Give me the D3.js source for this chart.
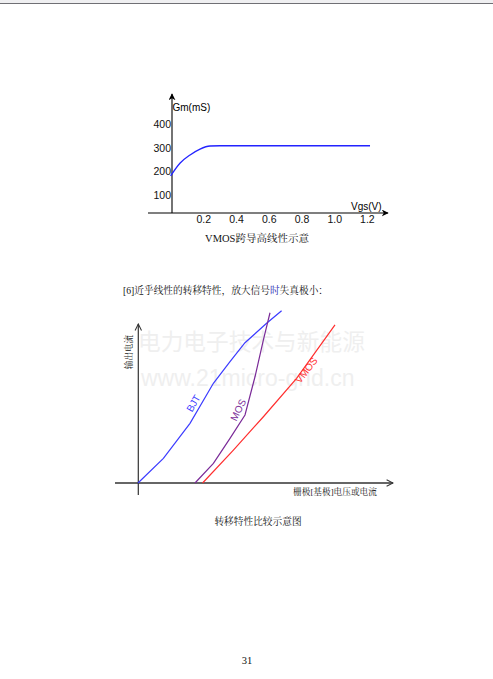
<!DOCTYPE html>
<html><head><meta charset="utf-8">
<script src="https://cdn.jsdelivr.net/npm/d3@7"></script>
<style>body{margin:0;background:#fff}svg{display:block}</style>
</head><body><svg id="c" width="493" height="679"></svg>
<script>
// ---- Chart 1 data: VMOS transconductance vs Vgs ----
const gmTicks = [100, 200, 300, 400];
const vgsTicks = [0.2, 0.4, 0.6, 0.8, 1.0, 1.2];
const vgs = [0, 0.057, 0.119, 0.18, 0.241, 0.302, 1.219];
const gm  = [181, 235, 270, 295, 308, 309, 309];

// ---- Chart 2 data: transfer characteristics (arbitrary units) ----
const bjtX  = [0, 1.27, 2.6, 3.77, 4.6, 5.35, 6.43, 7.18];
const bjtY  = [0, 1.54, 3.73, 6.23, 7.58, 8.77, 9.98, 10.77];
const mosX  = [2.85, 3.77, 4.6, 5.35, 5.85, 6.27, 6.6];
const mosY  = [0, 1.23, 2.79, 4.25, 6.64, 8.94, 10.64];
const vmosX = [3.23, 4.77, 6.27, 7.93, 9.85];
const vmosY = [0, 2.06, 4.14, 6.54, 9.88];
const seriesNames = ["BJT", "MOS", "VMOS"];

const svg = d3.select("#c");
const serif = "'Liberation Serif','Noto Serif CJK SC','Noto Sans CJK SC',serif";
const sans = "'Liberation Sans',Arial,'Noto Sans CJK SC',sans-serif";

// page top strip
svg.append("rect").attr("x",0).attr("y",0).attr("width",493).attr("height",3).attr("fill","#efeff1");
svg.append("line").attr("x1",0).attr("x2",493).attr("y1",3.5).attr("y2",3.5).attr("stroke","#6f6f74").attr("stroke-width",1.2);

const defs = svg.append("defs");
defs.append("marker").attr("id","arrF").attr("viewBox","0 0 10 10").attr("refX",9).attr("refY",5)
  .attr("markerWidth",7).attr("markerHeight",7).attr("markerUnits","userSpaceOnUse").attr("orient","auto")
  .append("path").attr("d","M0,0 L10,5 L0,10 L3,5 Z").attr("fill","#000");
defs.append("marker").attr("id","arrO").attr("viewBox","0 0 10 10").attr("refX",9).attr("refY",5)
  .attr("markerWidth",8).attr("markerHeight",8).attr("markerUnits","userSpaceOnUse").attr("orient","auto")
  .append("path").attr("d","M1,1 L9,5 L1,9").attr("fill","none").attr("stroke","#333").attr("stroke-width",1.3);

// ================= Chart 1 =================
const x1 = d3.scaleLinear().domain([0,1.2]).range([170.6,366.9]);
const y1 = d3.scaleLinear().domain([0,400]).range([218.6,124.3]);
const g1 = svg.append("g");
g1.append("line").attr("x1",172).attr("x2",172).attr("y1",213).attr("y2",94)
  .attr("stroke","#000").attr("stroke-width",1.1).attr("marker-end","url(#arrF)");
g1.append("line").attr("x1",148).attr("x2",388).attr("y1",213).attr("y2",213)
  .attr("stroke","#000").attr("stroke-width",1.1).attr("marker-end","url(#arrF)");
const ax1 = g1.append("g").attr("transform","translate(0,213)")
  .call(d3.axisBottom(x1).tickValues(vgsTicks).tickSize(0).tickPadding(3).tickFormat(d3.format(".1f")));
ax1.select(".domain").remove();
ax1.selectAll("text").attr("font-family",sans).attr("font-size",10.5).attr("fill","#111");
const ay1 = g1.append("g").attr("transform","translate(172,0)")
  .call(d3.axisLeft(y1).tickValues(gmTicks).tickSize(0).tickPadding(1).tickFormat(d3.format("d")));
ay1.select(".domain").remove();
ay1.selectAll("text").attr("font-family",sans).attr("font-size",10.5).attr("fill","#111");
g1.append("text").attr("x",172.5).attr("y",111).attr("font-family",sans).attr("font-size",10).text("Gm(mS)");
g1.append("text").attr("x",351).attr("y",210).attr("font-family",sans).attr("font-size",10).text("Vgs(V)");
const pts1 = vgs.map((v,i)=>[v,gm[i]]);
g1.append("path").attr("d", d3.line().x(d=>x1(d[0])).y(d=>y1(d[1])).curve(d3.curveMonotoneX)(pts1))
  .attr("fill","none").attr("stroke","#2323ff").attr("stroke-width",1.3);
svg.append("text").attr("x",257).attr("y",241.5).attr("text-anchor","middle")
  .attr("font-family",serif).attr("font-size",10.5).attr("fill","#111").text("VMOS跨导高线性示意");

// ================= Heading =================
const h = svg.append("text").attr("x",123).attr("y",294).attr("font-family",serif).attr("font-size",9.7).attr("fill","#111");
h.append("tspan").text("[6]近乎线性的转移特性，放大信号");
h.append("tspan").attr("fill","#2a2ab4").text("时");
h.append("tspan").text("失真极小：");

// ================= Chart 2 =================
const x2 = d3.scaleLinear().domain([0,10]).range([138,338]);
const y2 = d3.scaleLinear().domain([0,10]).range([483,323]);
const g2 = svg.append("g");
g2.append("text").attr("x",138).attr("y",350).attr("font-family","'Noto Sans CJK SC',sans-serif")
  .attr("font-size",22.7).attr("fill","#efefef").text("电力电子技术与新能源");
g2.append("text").attr("x",141).attr("y",386).attr("font-family",sans)
  .attr("font-size",23).attr("fill","#efefef").text("www.21micro-grid.cn");
g2.append("line").attr("x1",138.3).attr("x2",138.3).attr("y1",495).attr("y2",324)
  .attr("stroke","#333").attr("stroke-width",1.2).attr("marker-end","url(#arrO)");
g2.append("line").attr("x1",115).attr("x2",393).attr("y1",483).attr("y2",483)
  .attr("stroke","#333").attr("stroke-width",1.5).attr("marker-end","url(#arrO)");
g2.append("text").attr("transform","translate(132,352) rotate(-90)").attr("text-anchor","middle")
  .attr("font-family",serif).attr("font-size",8.6).attr("fill","#222").text("输出电流");
g2.append("text").attr("x",293).attr("y",494.5)
  .attr("font-family",serif).attr("font-size",8.7).attr("fill","#222").text("栅极[基极]电压或电流");

const line2 = d3.line().x(d=>x2(d[0])).y(d=>y2(d[1]));
const series = [
  {name:seriesNames[0], xs:bjtX, ys:bjtY, color:"#3b3bff", lx:2.77, ly:4.98, rot:-60},
  {name:seriesNames[1], xs:mosX, ys:mosY, color:"#7a2a98", lx:5.01, ly:4.56, rot:-64},
  {name:seriesNames[2], xs:vmosX, ys:vmosY, color:"#ff2e2e", lx:8.42, ly:7.05, rot:-52}
];
series.forEach(s=>{
  g2.append("path").attr("d", line2(s.xs.map((v,i)=>[v,s.ys[i]])))
    .attr("fill","none").attr("stroke",s.color).attr("stroke-width",1.2);
  g2.append("text").attr("transform",`translate(${x2(s.lx)},${y2(s.ly)}) rotate(${s.rot})`)
    .attr("text-anchor","middle").attr("dy","0.35em").attr("font-family",sans).attr("font-size",10)
    .attr("fill",s.color).text(s.name);
});
svg.append("text").attr("x",258).attr("y",525).attr("text-anchor","middle")
  .attr("font-family",serif).attr("font-size",9.7).attr("fill","#111").text("转移特性比较示意图");

svg.append("text").attr("x",247).attr("y",664).attr("text-anchor","middle")
  .attr("font-family",serif).attr("font-size",10.5).attr("fill","#111").text("31");
</script></body></html>
